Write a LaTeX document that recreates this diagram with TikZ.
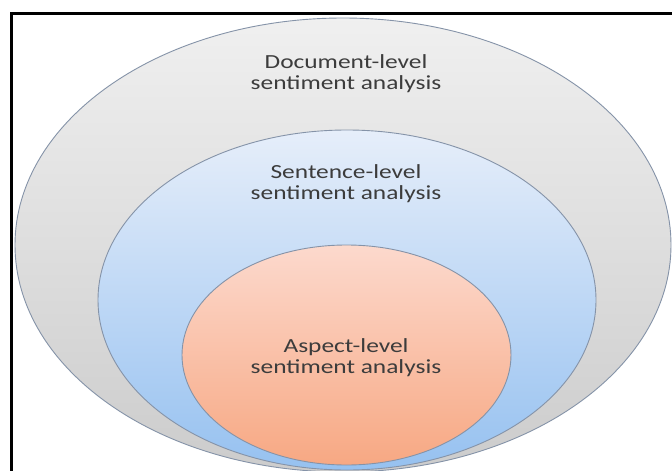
\documentclass[tikz,border=0pt]{standalone}
\usepackage{fontspec}
\setmainfont[FakeStretch=1.27]{Carlito}
\usetikzlibrary{shapes.geometric}
\definecolor{txt}{HTML}{3C3C3C}
\definecolor{edge}{HTML}{8593A8}
\tikzset{
  ring/.style={ellipse, draw=edge, line width=0.9pt, inner sep=0pt},
  lbl/.style={align=center, text=txt, font=\fontsize{20}{21}\selectfont, inner sep=0pt}
}
\begin{document}
\begin{tikzpicture}[x=1pt,y=-1pt]
\useasboundingbox (0,0) rectangle (672,471);
\fill[white] (0,0) rectangle (672,471);
\begin{scope}
\clip (0,0) rectangle (672,471);
\node[ring, minimum width=656pt, minimum height=454pt, top color=gray!12, bottom color=gray!40] (doc) at (343,245) {};
\node[ring, minimum width=498pt, minimum height=340pt, top color={rgb,255:red,230;green,238;blue,250}, bottom color={rgb,255:red,150;green,193;blue,240}] (sen) at (347,300) {};
\node[ring, minimum width=329pt, minimum height=220pt, top color={rgb,255:red,252;green,217;blue,205}, bottom color={rgb,255:red,247;green,168;blue,131}] (asp) at (346.5,355) {};
\end{scope}
\node[lbl] (tdoc) at (346,74) {Document-level\\sentiment analysis};
\node[lbl] (tsen) at (346,184) {Sentence-level\\sentiment analysis};
\node[lbl] (tasp) at (346,358) {Aspect-level\\sentiment analysis};
\coordinate (fb) at (11.5,471);
\coordinate (fc) at (11.5,13.3);
\coordinate (fr) at (672,13.3);
\draw[black, line width=3.6pt] (fb) -- (fc) -- (fr);
\end{tikzpicture}
\end{document}
